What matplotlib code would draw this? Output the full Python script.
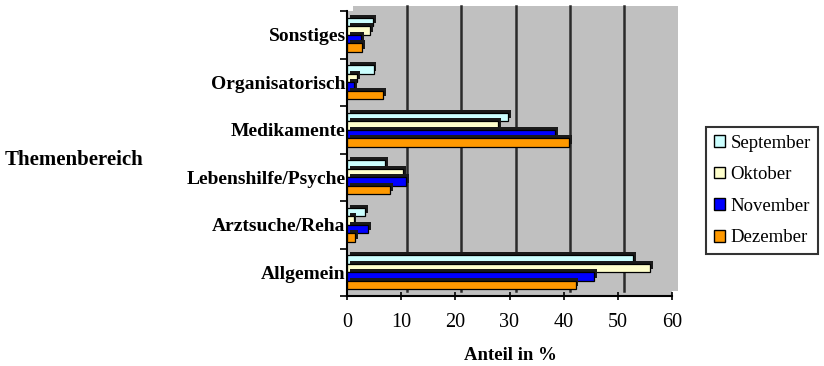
import matplotlib
matplotlib.use("Agg")
import matplotlib.pyplot as plt
import matplotlib.patheffects as pe
from matplotlib.patches import Rectangle, Patch
from matplotlib.transforms import ScaledTranslation
import numpy as np

categories = ["Sonstiges", "Organisatorisch", "Medikamente",
              "Lebenshilfe/Psyche", "Arztsuche/Reha", "Allgemein"]
series_names = ["September", "Oktober", "November", "Dezember"]
september = [4.8, 4.9, 29.8, 7.0, 3.3, 52.8]
oktober = [4.3, 1.9, 27.9, 10.4, 1.2, 56.0]
november = [2.6, 1.3, 38.4, 10.9, 3.9, 45.6]
dezember = [2.8, 6.7, 41.0, 7.9, 1.5, 42.2]
x_ticks = [0, 10, 20, 30, 40, 50, 60]

colors = ["#CCFFFF", "#FFFFCC", "#0000FF", "#FF9900"]
series = [september, oktober, november, dezember]

plt.rcParams["font.family"] = ["Liberation Serif", "DejaVu Serif"]

fig = plt.figure(figsize=(8.24, 3.66), dpi=100)
fig.patch.set_facecolor("white")
ax = fig.add_axes([347 / 824, 70 / 366, 325 / 824, 285 / 366])
ax.set_facecolor("none")

# 3D-ish back wall
off = ScaledTranslation(6 / 100, 5 / 100, fig.dpi_scale_trans)
ax.add_patch(Rectangle((0, 0), 1, 1, transform=ax.transAxes, facecolor="#C0C0C0",
                       edgecolor="none", zorder=0))
ax.add_patch(Rectangle((0, 0), 1, 1, transform=ax.transAxes + off, facecolor="#C0C0C0",
                       edgecolor="none", zorder=0, clip_on=False))
for xv in x_ticks[1:-1]:
    ax.plot([xv, xv], [0, 1], color="#2a2a2a", lw=1.8, zorder=1,
            transform=ax.get_xaxis_transform() + off, clip_on=False)

n = len(categories)
y = np.arange(n)
h = 0.179
offsets = [-1.5 * h, -0.5 * h, 0.5 * h, 1.5 * h]
shadow = [pe.SimplePatchShadow(offset=(2, 2), shadow_rgbFace="#1a1a1a", alpha=1.0), pe.Normal()]
for vals, c, o, name in zip(series, colors, offsets, series_names):
    bars = ax.barh(y + o, vals, height=h, color=c, edgecolor="black", linewidth=0.9,
                   zorder=3, label=name)
    for b in bars:
        b.set_path_effects(shadow)

ax.set_xlim(0, 60)
ax.set_ylim(n - 0.5, -0.5)
ax.set_xticks(x_ticks)
ax.set_xticklabels([str(v) for v in x_ticks], fontsize=14.5)
ax.set_yticks(y)
ax.set_yticklabels(categories, fontsize=14, fontweight="bold")
ax.set_yticks(np.arange(n + 1) - 0.5, minor=True)
ax.tick_params(axis="y", which="major", length=0, pad=1)
ax.tick_params(axis="y", which="minor", length=5, width=1.2, direction="out")
ax.tick_params(axis="x", which="major", length=6, width=1.2, direction="inout", pad=9)

for s in ["top", "right"]:
    ax.spines[s].set_visible(False)
ax.spines["left"].set_linewidth(1.5)
ax.spines["bottom"].set_linewidth(1.5)

fig.text(510 / 824, 1 - 355 / 366, "Anteil in %", ha="center", va="center",
         fontsize=13.5, fontweight="bold")
fig.text(5 / 824, 1 - 160 / 366, "Themenbereich", ha="left", va="center",
         fontsize=15, fontweight="bold")

handles = [Patch(facecolor=c, edgecolor="black", linewidth=1.0, label=nm)
           for c, nm in zip(colors, series_names)]
leg = fig.legend(handles=handles, loc="upper left",
                 bbox_to_anchor=(706 / 824, 1 - 127 / 366), borderaxespad=0,
                 fontsize=13.5, handlelength=0.6, handleheight=0.6, handletextpad=0.3,
                 labelspacing=0.78, borderpad=0.4, fancybox=False, framealpha=1)
leg.get_frame().set_edgecolor("#333333")
leg.get_frame().set_linewidth(1.5)

fig.savefig("out.png", dpi=100)
